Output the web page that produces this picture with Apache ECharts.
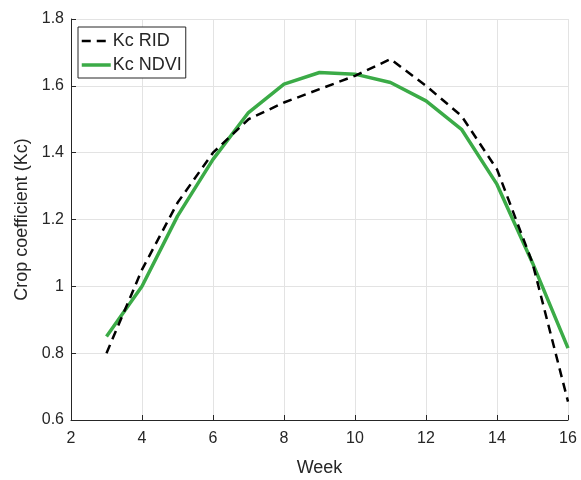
<!DOCTYPE html>
<html>
<head>
<meta charset="utf-8">
<script src="https://cdn.jsdelivr.net/npm/echarts@6/dist/echarts.min.js"></script>
<style>
  html, body { margin: 0; padding: 0; background: #fff; }
  #main { width: 581px; height: 480px; }
</style>
</head>
<body>
<div id="main"></div>
<script>
// weeks and Kc values
var weeks = [3, 4, 5, 6, 7, 8, 9, 10, 11, 12, 13, 14, 15, 16];
var kcRID = [0.80, 1.05, 1.25, 1.40, 1.50, 1.55, 1.59, 1.63, 1.68, 1.60, 1.51, 1.35, 1.07, 0.655];
var kcNDVI = [0.85, 1.00, 1.21, 1.38, 1.52, 1.605, 1.64, 1.635, 1.61, 1.555, 1.47, 1.305, 1.07, 0.815];

function pairs(xs, ys) {
  var out = [];
  for (var i = 0; i < xs.length; i++) out.push([xs[i], ys[i]]);
  return out;
}

var textColor = '#262626';
var ridColor = '#000';
var ndviColor = '#3bab47';
var myChart = echarts.init(document.getElementById('main'), null, { renderer: 'canvas' });

var option = {
  backgroundColor: '#fff',
  animation: false,
  textStyle: { fontFamily: 'Liberation Sans, Arial, sans-serif' },
  grid: { left: 71, right: 13, top: 19, bottom: 60, outerBoundsMode: 'none' },
  legend: {
    left: 78,
    top: 27,
    orient: 'vertical',
    itemWidth: 29,
    itemHeight: 14,
    itemGap: 6,
    padding: [5, 4, 4, 2],
    backgroundColor: '#fff',
    borderColor: '#262626',
    borderWidth: 1,
    itemStyle: { opacity: 0 },   // hide the symbol, keep only the line
    textStyle: { color: textColor, fontSize: 18, padding: [0, 0, 0, -3] },
    data: [
      { name: 'Kc RID', lineStyle: { color: ridColor, width: 2.5, type: [9, 6] } },
      { name: 'Kc NDVI', lineStyle: { color: ndviColor, width: 3.5 } }
    ]
  },
  xAxis: {
    type: 'value',
    min: 2, max: 16, interval: 2,
    name: 'Week',
    nameLocation: 'middle',
    nameGap: 39,
    nameTextStyle: { color: textColor, fontSize: 18 },
    axisLine: { lineStyle: { color: '#262626', width: 1 } },
    axisTick: { inside: true, length: 5, lineStyle: { color: '#262626' } },
    axisLabel: { color: textColor, fontSize: 16, margin: 11 },
    splitLine: { show: true, lineStyle: { color: '#e3e3e3', width: 1 } }
  },
  yAxis: {
    type: 'value',
    min: 0.6, max: 1.8, interval: 0.2,
    name: 'Crop coefficient (Kc)',
    nameLocation: 'middle',
    nameGap: 35,
    nameTextStyle: { color: textColor, fontSize: 18 },
    axisLine: { show: true, lineStyle: { color: '#262626', width: 1 } },
    axisTick: { show: true, inside: true, length: 5, lineStyle: { color: '#262626' } },
    axisLabel: {
      color: textColor, fontSize: 16, margin: 7,
      formatter: function (v) { return String(Math.round(v * 10) / 10); }
    },
    splitLine: { show: true, lineStyle: { color: '#e3e3e3', width: 1 } }
  },
  series: [
    {
      name: 'Kc RID',
      type: 'line',
      symbol: 'none',
      data: pairs(weeks, kcRID),
      itemStyle: { color: ridColor },
      lineStyle: { color: ridColor, width: 2.5, type: [9, 6] },
      z: 3
    },
    {
      name: 'Kc NDVI',
      type: 'line',
      symbol: 'none',
      data: pairs(weeks, kcNDVI),
      itemStyle: { color: ndviColor },
      lineStyle: { color: ndviColor, width: 3.5 },
      z: 2
    }
  ]
};
myChart.setOption(option);
</script>
</body>
</html>
